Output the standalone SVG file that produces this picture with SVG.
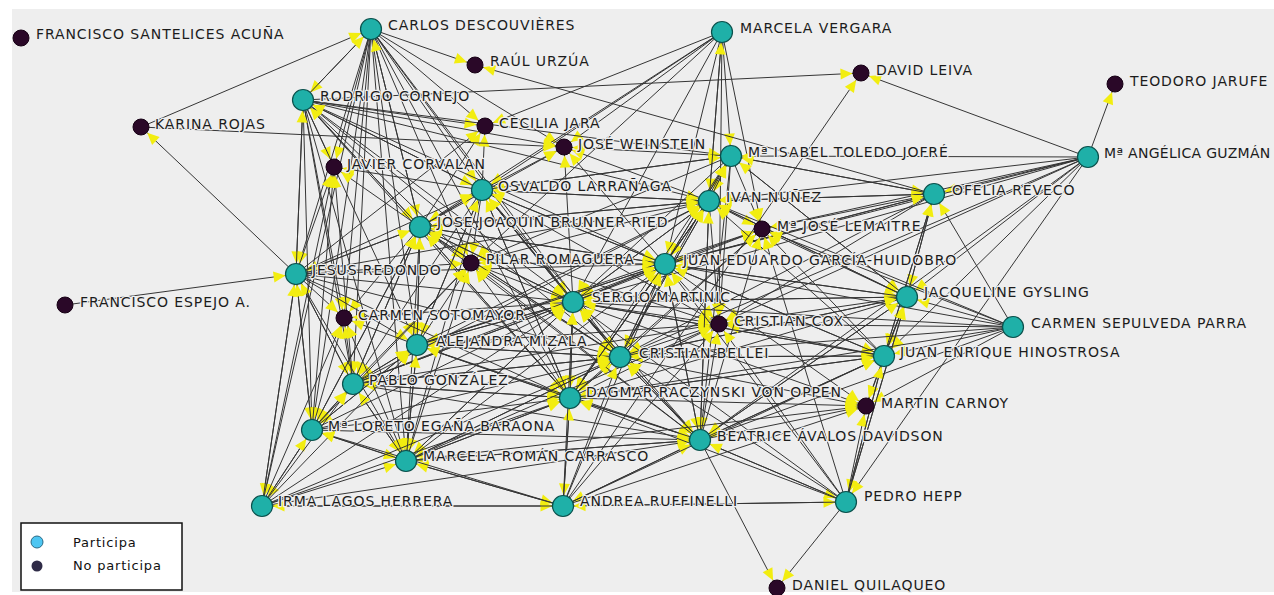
<svg xmlns="http://www.w3.org/2000/svg" width="1274" height="595" viewBox="0 0 1274 595">
<style>
#edges line{stroke:#353535;stroke-width:1;marker-end:url(#at)}
#edges line.d{marker-end:url(#ad)}
marker path{fill:#f2ed10}
.t{fill:#1fb0a8;stroke:#0b514c;stroke-width:1.2}
.k{fill:#2a0828;stroke:#160014;stroke-width:1}
.lb{font-family:"DejaVu Sans",Verdana,sans-serif;font-size:14px;letter-spacing:.9px;fill:#1c1c1c;paint-order:stroke;stroke:#eeeeee;stroke-width:2.5px;stroke-linejoin:round}
.lg{font-family:"DejaVu Sans",Verdana,sans-serif;font-size:13px;letter-spacing:.8px;fill:#111}
</style>
<defs>
<marker id="at" viewBox="-26 -7 28 14" refX="0" refY="0" markerWidth="28" markerHeight="14" markerUnits="userSpaceOnUse" orient="auto"><path d="M-10.5,0 L-22.5,-5.5 L-22.5,5.5 Z"/></marker>
<marker id="ad" viewBox="-26 -7 28 14" refX="0" refY="0" markerWidth="28" markerHeight="14" markerUnits="userSpaceOnUse" orient="auto"><path d="M-8.5,0 L-20.5,-5.5 L-20.5,5.5 Z"/></marker>
</defs>
<rect x="0" y="0" width="1274" height="595" fill="#ffffff"/>
<rect x="12" y="9" width="1262" height="583" fill="#eeeeee"/>
<g id="edges">
<line x1="371" y1="29" x2="475" y2="65" class="d"/>
<line x1="371" y1="29" x2="303" y2="100"/>
<line x1="371" y1="29" x2="485" y2="126" class="d"/>
<line x1="371" y1="29" x2="334" y2="167" class="d"/>
<line x1="371" y1="29" x2="482" y2="190"/>
<line x1="371" y1="29" x2="420" y2="227"/>
<line x1="371" y1="29" x2="471" y2="263" class="d"/>
<line x1="371" y1="29" x2="296" y2="274"/>
<line x1="371" y1="29" x2="344" y2="318" class="d"/>
<line x1="371" y1="29" x2="564" y2="147" class="d"/>
<line x1="371" y1="29" x2="417" y2="345"/>
<line x1="371" y1="29" x2="353" y2="384"/>
<line x1="371" y1="29" x2="573" y2="302"/>
<line x1="371" y1="29" x2="312" y2="430"/>
<line x1="371" y1="29" x2="406" y2="461"/>
<line x1="371" y1="29" x2="570" y2="398"/>
<line x1="371" y1="29" x2="620" y2="357"/>
<line x1="371" y1="29" x2="262" y2="506"/>
<line x1="722" y1="32" x2="731" y2="156"/>
<line x1="722" y1="32" x2="709" y2="201"/>
<line x1="722" y1="32" x2="564" y2="147" class="d"/>
<line x1="722" y1="32" x2="482" y2="190"/>
<line x1="722" y1="32" x2="665" y2="264"/>
<line x1="722" y1="32" x2="485" y2="126" class="d"/>
<line x1="722" y1="32" x2="573" y2="302"/>
<line x1="722" y1="32" x2="762" y2="229" class="d"/>
<line x1="722" y1="32" x2="719" y2="324" class="d"/>
<line x1="722" y1="32" x2="420" y2="227"/>
<line x1="722" y1="32" x2="471" y2="263" class="d"/>
<line x1="303" y1="100" x2="861" y2="73" class="d"/>
<line x1="303" y1="100" x2="485" y2="126" class="d"/>
<line x1="303" y1="100" x2="564" y2="147" class="d"/>
<line x1="303" y1="100" x2="334" y2="167" class="d"/>
<line x1="303" y1="100" x2="482" y2="190"/>
<line x1="303" y1="100" x2="420" y2="227"/>
<line x1="303" y1="100" x2="471" y2="263" class="d"/>
<line x1="303" y1="100" x2="296" y2="274"/>
<line x1="303" y1="100" x2="344" y2="318" class="d"/>
<line x1="303" y1="100" x2="371" y2="29"/>
<line x1="303" y1="100" x2="709" y2="201"/>
<line x1="303" y1="100" x2="731" y2="156"/>
<line x1="303" y1="100" x2="417" y2="345"/>
<line x1="303" y1="100" x2="573" y2="302"/>
<line x1="303" y1="100" x2="353" y2="384"/>
<line x1="303" y1="100" x2="312" y2="430"/>
<line x1="303" y1="100" x2="406" y2="461"/>
<line x1="303" y1="100" x2="570" y2="398"/>
<line x1="303" y1="100" x2="620" y2="357"/>
<line x1="303" y1="100" x2="665" y2="264"/>
<line x1="731" y1="156" x2="709" y2="201"/>
<line x1="731" y1="156" x2="762" y2="229" class="d"/>
<line x1="731" y1="156" x2="934" y2="194"/>
<line x1="731" y1="156" x2="665" y2="264"/>
<line x1="731" y1="156" x2="719" y2="324" class="d"/>
<line x1="731" y1="156" x2="564" y2="147" class="d"/>
<line x1="731" y1="156" x2="620" y2="357"/>
<line x1="731" y1="156" x2="573" y2="302"/>
<line x1="731" y1="156" x2="570" y2="398"/>
<line x1="731" y1="156" x2="907" y2="297"/>
<line x1="731" y1="156" x2="482" y2="190"/>
<line x1="731" y1="156" x2="471" y2="263" class="d"/>
<line x1="731" y1="156" x2="700" y2="440"/>
<line x1="1088" y1="157" x2="861" y2="73" class="d"/>
<line x1="1088" y1="157" x2="1115" y2="84" class="d"/>
<line x1="1088" y1="157" x2="846" y2="502"/>
<line x1="1088" y1="157" x2="934" y2="194"/>
<line x1="1088" y1="157" x2="709" y2="201"/>
<line x1="1088" y1="157" x2="731" y2="156"/>
<line x1="1088" y1="157" x2="907" y2="297"/>
<line x1="1088" y1="157" x2="884" y2="356"/>
<line x1="1088" y1="157" x2="762" y2="229" class="d"/>
<line x1="1088" y1="157" x2="665" y2="264"/>
<line x1="1088" y1="157" x2="719" y2="324" class="d"/>
<line x1="1088" y1="157" x2="700" y2="440"/>
<line x1="1088" y1="157" x2="620" y2="357"/>
<line x1="1088" y1="157" x2="573" y2="302"/>
<line x1="482" y1="190" x2="564" y2="147" class="d"/>
<line x1="482" y1="190" x2="485" y2="126" class="d"/>
<line x1="482" y1="190" x2="709" y2="201"/>
<line x1="482" y1="190" x2="665" y2="264"/>
<line x1="482" y1="190" x2="471" y2="263" class="d"/>
<line x1="482" y1="190" x2="573" y2="302"/>
<line x1="482" y1="190" x2="420" y2="227"/>
<line x1="482" y1="190" x2="620" y2="357"/>
<line x1="482" y1="190" x2="570" y2="398"/>
<line x1="482" y1="190" x2="731" y2="156"/>
<line x1="482" y1="190" x2="303" y2="100"/>
<line x1="482" y1="190" x2="334" y2="167" class="d"/>
<line x1="482" y1="190" x2="417" y2="345"/>
<line x1="482" y1="190" x2="719" y2="324" class="d"/>
<line x1="482" y1="190" x2="700" y2="440"/>
<line x1="482" y1="190" x2="406" y2="461"/>
<line x1="482" y1="190" x2="353" y2="384"/>
<line x1="709" y1="201" x2="731" y2="156"/>
<line x1="709" y1="201" x2="762" y2="229" class="d"/>
<line x1="709" y1="201" x2="665" y2="264"/>
<line x1="709" y1="201" x2="934" y2="194"/>
<line x1="709" y1="201" x2="719" y2="324" class="d"/>
<line x1="709" y1="201" x2="564" y2="147" class="d"/>
<line x1="709" y1="201" x2="573" y2="302"/>
<line x1="709" y1="201" x2="620" y2="357"/>
<line x1="709" y1="201" x2="722" y2="32"/>
<line x1="709" y1="201" x2="482" y2="190"/>
<line x1="709" y1="201" x2="907" y2="297"/>
<line x1="709" y1="201" x2="570" y2="398"/>
<line x1="709" y1="201" x2="700" y2="440"/>
<line x1="709" y1="201" x2="471" y2="263" class="d"/>
<line x1="709" y1="201" x2="420" y2="227"/>
<line x1="934" y1="194" x2="731" y2="156"/>
<line x1="934" y1="194" x2="709" y2="201"/>
<line x1="934" y1="194" x2="762" y2="229" class="d"/>
<line x1="934" y1="194" x2="665" y2="264"/>
<line x1="934" y1="194" x2="907" y2="297"/>
<line x1="934" y1="194" x2="719" y2="324" class="d"/>
<line x1="934" y1="194" x2="620" y2="357"/>
<line x1="934" y1="194" x2="884" y2="356"/>
<line x1="934" y1="194" x2="475" y2="65" class="d"/>
<line x1="420" y1="227" x2="482" y2="190"/>
<line x1="420" y1="227" x2="471" y2="263" class="d"/>
<line x1="420" y1="227" x2="564" y2="147" class="d"/>
<line x1="420" y1="227" x2="485" y2="126" class="d"/>
<line x1="420" y1="227" x2="334" y2="167" class="d"/>
<line x1="420" y1="227" x2="303" y2="100"/>
<line x1="420" y1="227" x2="296" y2="274"/>
<line x1="420" y1="227" x2="573" y2="302"/>
<line x1="420" y1="227" x2="417" y2="345"/>
<line x1="420" y1="227" x2="344" y2="318" class="d"/>
<line x1="420" y1="227" x2="665" y2="264"/>
<line x1="420" y1="227" x2="709" y2="201"/>
<line x1="420" y1="227" x2="620" y2="357"/>
<line x1="420" y1="227" x2="570" y2="398"/>
<line x1="420" y1="227" x2="353" y2="384"/>
<line x1="420" y1="227" x2="371" y2="29"/>
<line x1="420" y1="227" x2="406" y2="461"/>
<line x1="420" y1="227" x2="312" y2="430"/>
<line x1="420" y1="227" x2="700" y2="440"/>
<line x1="420" y1="227" x2="719" y2="324" class="d"/>
<line x1="665" y1="264" x2="709" y2="201"/>
<line x1="665" y1="264" x2="762" y2="229" class="d"/>
<line x1="665" y1="264" x2="573" y2="302"/>
<line x1="665" y1="264" x2="719" y2="324" class="d"/>
<line x1="665" y1="264" x2="620" y2="357"/>
<line x1="665" y1="264" x2="907" y2="297"/>
<line x1="665" y1="264" x2="471" y2="263" class="d"/>
<line x1="665" y1="264" x2="564" y2="147" class="d"/>
<line x1="665" y1="264" x2="482" y2="190"/>
<line x1="665" y1="264" x2="731" y2="156"/>
<line x1="665" y1="264" x2="934" y2="194"/>
<line x1="665" y1="264" x2="570" y2="398"/>
<line x1="665" y1="264" x2="700" y2="440"/>
<line x1="665" y1="264" x2="420" y2="227"/>
<line x1="665" y1="264" x2="866" y2="406" class="d"/>
<line x1="665" y1="264" x2="417" y2="345"/>
<line x1="665" y1="264" x2="884" y2="356"/>
<line x1="296" y1="274" x2="141" y2="127" class="d"/>
<line x1="296" y1="274" x2="334" y2="167" class="d"/>
<line x1="296" y1="274" x2="303" y2="100"/>
<line x1="296" y1="274" x2="420" y2="227"/>
<line x1="296" y1="274" x2="471" y2="263" class="d"/>
<line x1="296" y1="274" x2="344" y2="318" class="d"/>
<line x1="296" y1="274" x2="417" y2="345"/>
<line x1="296" y1="274" x2="353" y2="384"/>
<line x1="296" y1="274" x2="312" y2="430"/>
<line x1="296" y1="274" x2="482" y2="190"/>
<line x1="296" y1="274" x2="573" y2="302"/>
<line x1="296" y1="274" x2="406" y2="461"/>
<line x1="296" y1="274" x2="262" y2="506"/>
<line x1="296" y1="274" x2="485" y2="126" class="d"/>
<line x1="296" y1="274" x2="570" y2="398"/>
<line x1="296" y1="274" x2="620" y2="357"/>
<line x1="296" y1="274" x2="665" y2="264"/>
<line x1="296" y1="274" x2="709" y2="201"/>
<line x1="573" y1="302" x2="471" y2="263" class="d"/>
<line x1="573" y1="302" x2="665" y2="264"/>
<line x1="573" y1="302" x2="719" y2="324" class="d"/>
<line x1="573" y1="302" x2="620" y2="357"/>
<line x1="573" y1="302" x2="709" y2="201"/>
<line x1="573" y1="302" x2="762" y2="229" class="d"/>
<line x1="573" y1="302" x2="564" y2="147" class="d"/>
<line x1="573" y1="302" x2="482" y2="190"/>
<line x1="573" y1="302" x2="420" y2="227"/>
<line x1="573" y1="302" x2="417" y2="345"/>
<line x1="573" y1="302" x2="570" y2="398"/>
<line x1="573" y1="302" x2="344" y2="318" class="d"/>
<line x1="573" y1="302" x2="700" y2="440"/>
<line x1="573" y1="302" x2="907" y2="297"/>
<line x1="573" y1="302" x2="406" y2="461"/>
<line x1="573" y1="302" x2="353" y2="384"/>
<line x1="573" y1="302" x2="866" y2="406" class="d"/>
<line x1="573" y1="302" x2="884" y2="356"/>
<line x1="907" y1="297" x2="934" y2="194"/>
<line x1="907" y1="297" x2="665" y2="264"/>
<line x1="907" y1="297" x2="719" y2="324" class="d"/>
<line x1="907" y1="297" x2="762" y2="229" class="d"/>
<line x1="907" y1="297" x2="709" y2="201"/>
<line x1="907" y1="297" x2="884" y2="356"/>
<line x1="907" y1="297" x2="846" y2="502"/>
<line x1="907" y1="297" x2="866" y2="406" class="d"/>
<line x1="907" y1="297" x2="620" y2="357"/>
<line x1="907" y1="297" x2="573" y2="302"/>
<line x1="907" y1="297" x2="570" y2="398"/>
<line x1="907" y1="297" x2="731" y2="156"/>
<line x1="907" y1="297" x2="700" y2="440"/>
<line x1="1013" y1="327" x2="934" y2="194"/>
<line x1="1013" y1="327" x2="907" y2="297"/>
<line x1="1013" y1="327" x2="884" y2="356"/>
<line x1="1013" y1="327" x2="719" y2="324" class="d"/>
<line x1="1013" y1="327" x2="762" y2="229" class="d"/>
<line x1="1013" y1="327" x2="665" y2="264"/>
<line x1="1013" y1="327" x2="620" y2="357"/>
<line x1="1013" y1="327" x2="570" y2="398"/>
<line x1="1013" y1="327" x2="709" y2="201"/>
<line x1="1013" y1="327" x2="573" y2="302"/>
<line x1="1013" y1="327" x2="866" y2="406" class="d"/>
<line x1="1013" y1="327" x2="700" y2="440"/>
<line x1="417" y1="345" x2="471" y2="263" class="d"/>
<line x1="417" y1="345" x2="573" y2="302"/>
<line x1="417" y1="345" x2="344" y2="318" class="d"/>
<line x1="417" y1="345" x2="353" y2="384"/>
<line x1="417" y1="345" x2="420" y2="227"/>
<line x1="417" y1="345" x2="570" y2="398"/>
<line x1="417" y1="345" x2="620" y2="357"/>
<line x1="417" y1="345" x2="665" y2="264"/>
<line x1="417" y1="345" x2="406" y2="461"/>
<line x1="417" y1="345" x2="312" y2="430"/>
<line x1="417" y1="345" x2="719" y2="324" class="d"/>
<line x1="417" y1="345" x2="482" y2="190"/>
<line x1="417" y1="345" x2="709" y2="201"/>
<line x1="417" y1="345" x2="700" y2="440"/>
<line x1="417" y1="345" x2="762" y2="229" class="d"/>
<line x1="620" y1="357" x2="719" y2="324" class="d"/>
<line x1="620" y1="357" x2="573" y2="302"/>
<line x1="620" y1="357" x2="570" y2="398"/>
<line x1="620" y1="357" x2="665" y2="264"/>
<line x1="620" y1="357" x2="700" y2="440"/>
<line x1="620" y1="357" x2="709" y2="201"/>
<line x1="620" y1="357" x2="762" y2="229" class="d"/>
<line x1="620" y1="357" x2="471" y2="263" class="d"/>
<line x1="620" y1="357" x2="884" y2="356"/>
<line x1="620" y1="357" x2="866" y2="406" class="d"/>
<line x1="620" y1="357" x2="417" y2="345"/>
<line x1="620" y1="357" x2="907" y2="297"/>
<line x1="620" y1="357" x2="353" y2="384"/>
<line x1="620" y1="357" x2="406" y2="461"/>
<line x1="620" y1="357" x2="482" y2="190"/>
<line x1="620" y1="357" x2="420" y2="227"/>
<line x1="884" y1="356" x2="907" y2="297"/>
<line x1="884" y1="356" x2="866" y2="406" class="d"/>
<line x1="884" y1="356" x2="846" y2="502"/>
<line x1="884" y1="356" x2="719" y2="324" class="d"/>
<line x1="884" y1="356" x2="620" y2="357"/>
<line x1="884" y1="356" x2="700" y2="440"/>
<line x1="884" y1="356" x2="570" y2="398"/>
<line x1="884" y1="356" x2="665" y2="264"/>
<line x1="884" y1="356" x2="573" y2="302"/>
<line x1="884" y1="356" x2="762" y2="229" class="d"/>
<line x1="884" y1="356" x2="709" y2="201"/>
<line x1="884" y1="356" x2="934" y2="194"/>
<line x1="353" y1="384" x2="344" y2="318" class="d"/>
<line x1="353" y1="384" x2="417" y2="345"/>
<line x1="353" y1="384" x2="471" y2="263" class="d"/>
<line x1="353" y1="384" x2="312" y2="430"/>
<line x1="353" y1="384" x2="420" y2="227"/>
<line x1="353" y1="384" x2="570" y2="398"/>
<line x1="353" y1="384" x2="573" y2="302"/>
<line x1="353" y1="384" x2="406" y2="461"/>
<line x1="353" y1="384" x2="296" y2="274"/>
<line x1="353" y1="384" x2="620" y2="357"/>
<line x1="353" y1="384" x2="334" y2="167" class="d"/>
<line x1="353" y1="384" x2="709" y2="201"/>
<line x1="353" y1="384" x2="665" y2="264"/>
<line x1="353" y1="384" x2="700" y2="440"/>
<line x1="353" y1="384" x2="719" y2="324" class="d"/>
<line x1="570" y1="398" x2="620" y2="357"/>
<line x1="570" y1="398" x2="700" y2="440"/>
<line x1="570" y1="398" x2="573" y2="302"/>
<line x1="570" y1="398" x2="719" y2="324" class="d"/>
<line x1="570" y1="398" x2="417" y2="345"/>
<line x1="570" y1="398" x2="406" y2="461"/>
<line x1="570" y1="398" x2="563" y2="506"/>
<line x1="570" y1="398" x2="471" y2="263" class="d"/>
<line x1="570" y1="398" x2="665" y2="264"/>
<line x1="570" y1="398" x2="866" y2="406" class="d"/>
<line x1="570" y1="398" x2="884" y2="356"/>
<line x1="570" y1="398" x2="353" y2="384"/>
<line x1="570" y1="398" x2="420" y2="227"/>
<line x1="570" y1="398" x2="482" y2="190"/>
<line x1="570" y1="398" x2="709" y2="201"/>
<line x1="570" y1="398" x2="762" y2="229" class="d"/>
<line x1="312" y1="430" x2="353" y2="384"/>
<line x1="312" y1="430" x2="406" y2="461"/>
<line x1="312" y1="430" x2="344" y2="318" class="d"/>
<line x1="312" y1="430" x2="417" y2="345"/>
<line x1="312" y1="430" x2="296" y2="274"/>
<line x1="312" y1="430" x2="262" y2="506"/>
<line x1="312" y1="430" x2="570" y2="398"/>
<line x1="312" y1="430" x2="471" y2="263" class="d"/>
<line x1="312" y1="430" x2="334" y2="167" class="d"/>
<line x1="312" y1="430" x2="620" y2="357"/>
<line x1="312" y1="430" x2="573" y2="302"/>
<line x1="312" y1="430" x2="700" y2="440"/>
<line x1="312" y1="430" x2="420" y2="227"/>
<line x1="700" y1="440" x2="570" y2="398"/>
<line x1="700" y1="440" x2="620" y2="357"/>
<line x1="700" y1="440" x2="719" y2="324" class="d"/>
<line x1="700" y1="440" x2="866" y2="406" class="d"/>
<line x1="700" y1="440" x2="846" y2="502"/>
<line x1="700" y1="440" x2="777" y2="588" class="d"/>
<line x1="700" y1="440" x2="563" y2="506"/>
<line x1="700" y1="440" x2="665" y2="264"/>
<line x1="700" y1="440" x2="573" y2="302"/>
<line x1="700" y1="440" x2="406" y2="461"/>
<line x1="700" y1="440" x2="884" y2="356"/>
<line x1="700" y1="440" x2="709" y2="201"/>
<line x1="700" y1="440" x2="762" y2="229" class="d"/>
<line x1="700" y1="440" x2="907" y2="297"/>
<line x1="700" y1="440" x2="471" y2="263" class="d"/>
<line x1="406" y1="461" x2="312" y2="430"/>
<line x1="406" y1="461" x2="563" y2="506"/>
<line x1="406" y1="461" x2="353" y2="384"/>
<line x1="406" y1="461" x2="417" y2="345"/>
<line x1="406" y1="461" x2="570" y2="398"/>
<line x1="406" y1="461" x2="700" y2="440"/>
<line x1="406" y1="461" x2="620" y2="357"/>
<line x1="406" y1="461" x2="573" y2="302"/>
<line x1="406" y1="461" x2="471" y2="263" class="d"/>
<line x1="406" y1="461" x2="344" y2="318" class="d"/>
<line x1="406" y1="461" x2="665" y2="264"/>
<line x1="406" y1="461" x2="719" y2="324" class="d"/>
<line x1="406" y1="461" x2="866" y2="406" class="d"/>
<line x1="262" y1="506" x2="563" y2="506"/>
<line x1="262" y1="506" x2="312" y2="430"/>
<line x1="262" y1="506" x2="406" y2="461"/>
<line x1="262" y1="506" x2="353" y2="384"/>
<line x1="262" y1="506" x2="296" y2="274"/>
<line x1="262" y1="506" x2="344" y2="318" class="d"/>
<line x1="262" y1="506" x2="417" y2="345"/>
<line x1="262" y1="506" x2="334" y2="167" class="d"/>
<line x1="262" y1="506" x2="570" y2="398"/>
<line x1="262" y1="506" x2="573" y2="302"/>
<line x1="262" y1="506" x2="620" y2="357"/>
<line x1="262" y1="506" x2="700" y2="440"/>
<line x1="563" y1="506" x2="570" y2="398"/>
<line x1="563" y1="506" x2="700" y2="440"/>
<line x1="563" y1="506" x2="406" y2="461"/>
<line x1="563" y1="506" x2="846" y2="502"/>
<line x1="563" y1="506" x2="861" y2="73" class="d"/>
<line x1="563" y1="506" x2="620" y2="357"/>
<line x1="563" y1="506" x2="573" y2="302"/>
<line x1="563" y1="506" x2="262" y2="506"/>
<line x1="563" y1="506" x2="312" y2="430"/>
<line x1="563" y1="506" x2="665" y2="264"/>
<line x1="563" y1="506" x2="719" y2="324" class="d"/>
<line x1="563" y1="506" x2="884" y2="356"/>
<line x1="563" y1="506" x2="866" y2="406" class="d"/>
<line x1="846" y1="502" x2="777" y2="588" class="d"/>
<line x1="846" y1="502" x2="700" y2="440"/>
<line x1="846" y1="502" x2="866" y2="406" class="d"/>
<line x1="846" y1="502" x2="884" y2="356"/>
<line x1="846" y1="502" x2="907" y2="297"/>
<line x1="846" y1="502" x2="570" y2="398"/>
<line x1="846" y1="502" x2="620" y2="357"/>
<line x1="846" y1="502" x2="719" y2="324" class="d"/>
<line x1="846" y1="502" x2="563" y2="506"/>
<line x1="846" y1="502" x2="573" y2="302"/>
<line x1="846" y1="502" x2="762" y2="229" class="d"/>
<line x1="846" y1="502" x2="665" y2="264"/>
<line x1="141" y1="127" x2="371" y2="29"/>
<line x1="141" y1="127" x2="564" y2="147" class="d"/>
<line x1="65" y1="305" x2="296" y2="274"/>
</g>
<g id="nodes">
<g id="n-fsa"><circle class="k" cx="21" cy="38" r="8"/><text class="lb" x="36" y="39">FRANCISCO SANTELICES ACUÑA</text></g>
<g id="n-cd"><circle class="t" cx="371" cy="29" r="10.5"/><text class="lb" x="388" y="30">CARLOS DESCOUVIÈRES</text></g>
<g id="n-ru"><circle class="k" cx="475" cy="65" r="8"/><text class="lb" x="490" y="66">RAÚL URZÚA</text></g>
<g id="n-mv"><circle class="t" cx="722" cy="32" r="10.5"/><text class="lb" x="740" y="33">MARCELA VERGARA</text></g>
<g id="n-dl"><circle class="k" cx="861" cy="73" r="8"/><text class="lb" x="876" y="75">DAVID LEIVA</text></g>
<g id="n-tj"><circle class="k" cx="1115" cy="84" r="8"/><text class="lb" x="1130" y="86">TEODORO JARUFE</text></g>
<g id="n-rc"><circle class="t" cx="303" cy="100" r="10.5"/><text class="lb" x="320" y="101">RODRIGO CORNEJO</text></g>
<g id="n-kr"><circle class="k" cx="141" cy="127" r="8"/><text class="lb" x="155" y="129">KARINA ROJAS</text></g>
<g id="n-cj"><circle class="k" cx="485" cy="126" r="8"/><text class="lb" x="499" y="128">CECILIA JARA</text></g>
<g id="n-jw"><circle class="k" cx="564" cy="147" r="8"/><text class="lb" x="578" y="149">JOSÉ WEINSTEIN</text></g>
<g id="n-mit"><circle class="t" cx="731" cy="156" r="10.5"/><text class="lb" x="748" y="157">Mª ISABEL TOLEDO JOFRÉ</text></g>
<g id="n-mag"><circle class="t" cx="1088" cy="157" r="10.5"/><text class="lb" x="1104" y="158" style="letter-spacing:.3px">Mª ANGÉLICA GUZMÁN</text></g>
<g id="n-jc"><circle class="k" cx="334" cy="167" r="8"/><text class="lb" x="347" y="169">JAVIER CORVALAN</text></g>
<g id="n-ol"><circle class="t" cx="482" cy="190" r="10.5"/><text class="lb" x="498" y="191">OSVALDO LARRAÑAGA</text></g>
<g id="n-in"><circle class="t" cx="709" cy="201" r="10.5"/><text class="lb" x="726" y="202">IVAN NUÑEZ</text></g>
<g id="n-or"><circle class="t" cx="934" cy="194" r="10.5"/><text class="lb" x="952" y="195">OFELIA REVECO</text></g>
<g id="n-jjb"><circle class="t" cx="420" cy="227" r="10.5"/><text class="lb" x="437" y="227">JOSE JOAQUIN BRUNNER RIED</text></g>
<g id="n-mjl"><circle class="k" cx="762" cy="229" r="8"/><text class="lb" x="777" y="231">Mª JOSÉ LEMAITRE</text></g>
<g id="n-pr"><circle class="k" cx="471" cy="263" r="8"/><text class="lb" x="486" y="264">PILAR ROMAGUERA</text></g>
<g id="n-jeg"><circle class="t" cx="665" cy="264" r="10.5"/><text class="lb" x="683" y="265">JUAN EDUARDO GARCÍA-HUIDOBRO</text></g>
<g id="n-jr"><circle class="t" cx="296" cy="274" r="10.5"/><text class="lb" x="312" y="275">JESUS REDONDO</text></g>
<g id="n-fea"><circle class="k" cx="65" cy="305" r="8"/><text class="lb" x="80" y="307">FRANCISCO ESPEJO A.</text></g>
<g id="n-sm"><circle class="t" cx="573" cy="302" r="10.5"/><text class="lb" x="592" y="302">SERGIO MARTINIC</text></g>
<g id="n-jg"><circle class="t" cx="907" cy="297" r="10.5"/><text class="lb" x="924" y="297">JACQUELINE GYSLING</text></g>
<g id="n-cs"><circle class="k" cx="344" cy="318" r="8"/><text class="lb" x="358" y="320">CARMEN SOTOMAYOR</text></g>
<g id="n-cc"><circle class="k" cx="719" cy="324" r="8"/><text class="lb" x="734" y="326">CRISTIAN COX</text></g>
<g id="n-csp"><circle class="t" cx="1013" cy="327" r="10.5"/><text class="lb" x="1031" y="328">CARMEN SEPULVEDA PARRA</text></g>
<g id="n-am"><circle class="t" cx="417" cy="345" r="10.5"/><text class="lb" x="436" y="346">ALEJANDRA MIZALA</text></g>
<g id="n-cb"><circle class="t" cx="620" cy="357" r="10.5"/><text class="lb" x="639" y="358">CRISTIAN BELLEI</text></g>
<g id="n-jeh"><circle class="t" cx="884" cy="356" r="10.5"/><text class="lb" x="900" y="357">JUAN ENRIQUE HINOSTROSA</text></g>
<g id="n-pg"><circle class="t" cx="353" cy="384" r="10.5"/><text class="lb" x="369" y="385">PABLO GONZÁLEZ</text></g>
<g id="n-dr"><circle class="t" cx="570" cy="398" r="10.5"/><text class="lb" x="586" y="397">DAGMAR RACZYNSKI VON OPPEN</text></g>
<g id="n-mc"><circle class="k" cx="866" cy="406" r="8"/><text class="lb" x="881" y="408">MARTIN CARNOY</text></g>
<g id="n-mle"><circle class="t" cx="312" cy="430" r="10.5"/><text class="lb" x="328" y="431">Mª LORETO EGAÑA BARAONA</text></g>
<g id="n-ba"><circle class="t" cx="700" cy="440" r="10.5"/><text class="lb" x="717" y="441">BEATRICE ÁVALOS DAVIDSON</text></g>
<g id="n-mrc"><circle class="t" cx="406" cy="461" r="10.5"/><text class="lb" x="423" y="461">MARCELA ROMÁN CARRASCO</text></g>
<g id="n-ilh"><circle class="t" cx="262" cy="506" r="10.5"/><text class="lb" x="278" y="506">IRMA LAGOS HERRERA</text></g>
<g id="n-ar"><circle class="t" cx="563" cy="506" r="10.5"/><text class="lb" x="580" y="506">ANDREA RUFFINELLI</text></g>
<g id="n-ph"><circle class="t" cx="846" cy="502" r="10.5"/><text class="lb" x="864" y="501">PEDRO HEPP</text></g>
<g id="n-dq"><circle class="k" cx="777" cy="588" r="8"/><text class="lb" x="792" y="590">DANIEL QUILAQUEO</text></g>
</g>
<g id="legend">
<rect x="21" y="523" width="161" height="67" fill="#ffffff" stroke="#111111" stroke-width="1.5"/>
<circle cx="37" cy="542" r="6" fill="#4ec6f2" stroke="#2a6a86" stroke-width="1"/>
<circle cx="37" cy="566" r="5.5" fill="#2f2b47"/>
<text class="lg" x="73" y="547">Participa</text>
<text class="lg" x="73" y="570">No participa</text>
</g>
</svg>
